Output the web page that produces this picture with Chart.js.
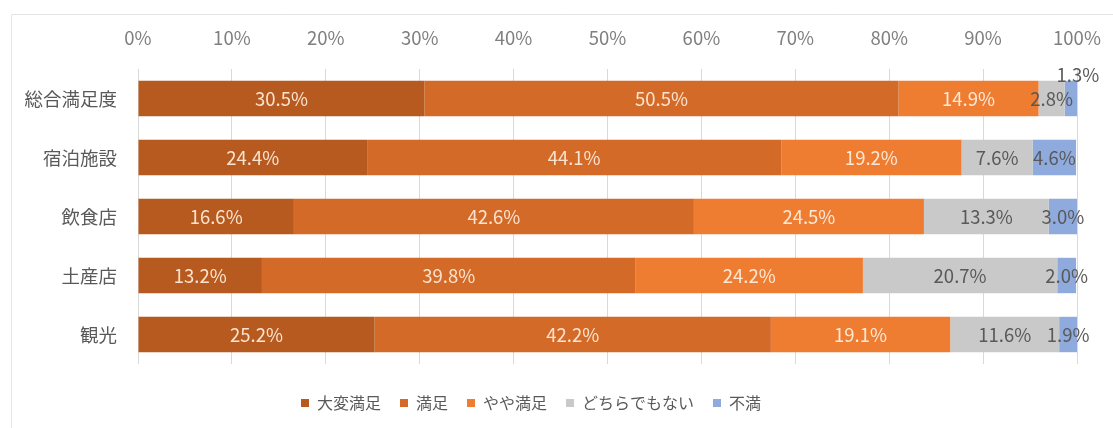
<!DOCTYPE html>
<html>
<head>
<meta charset="utf-8">
<script src="https://cdn.jsdelivr.net/npm/chart.js@4"></script>
<style>
  html, body { margin: 0; padding: 0; background: #ffffff; }
  #wrap { width: 1113px; height: 428px; }
</style>
</head>
<body>
<div id="wrap"><canvas id="c" width="1113" height="428"></canvas></div>
<script>
const categories = ['総合満足度', '宿泊施設', '飲食店', '土産店', '観光'];
const seriesNames = ['大変満足', '満足', 'やや満足', 'どちらでもない', '不満'];
const veryHappy  = [30.5, 24.4, 16.6, 13.2, 25.2];
const happy      = [50.5, 44.1, 42.6, 39.8, 42.2];
const someHappy  = [14.9, 19.2, 24.5, 24.2, 19.1];
const neutral    = [2.8, 7.6, 13.3, 20.7, 11.6];
const unhappy    = [1.3, 4.6, 3.0, 2.0, 1.9];
const xTicks = [0, 10, 20, 30, 40, 50, 60, 70, 80, 90, 100];

const colors = ['#B75A1F', '#D36A27', '#EE7D32', '#C9C9C9', '#8FAADC'];
const labelColors = ['#FBE3CF', '#FBE3CF', '#FDE8D6', '#595959', '#595959'];
const FONT = '"Noto Sans CJK JP", "Noto Sans", sans-serif';

const allSeries = [veryHappy, happy, someHappy, neutral, unhappy];

const frame = {
  id: 'frame',
  beforeDraw(chart) {
    const ctx = chart.ctx;
    ctx.save();
    ctx.strokeStyle = '#e4e4e4';
    ctx.lineWidth = 1;
    ctx.beginPath();
    ctx.moveTo(11.5, 428);
    ctx.lineTo(11.5, 14.5);
    ctx.lineTo(1113, 14.5);
    ctx.stroke();
    ctx.restore();
  }
};

const valueLabels = {
  id: 'valueLabels',
  afterDatasetsDraw(chart) {
    const ctx = chart.ctx;
    ctx.save();
    ctx.font = '18.5px ' + FONT;
    ctx.textAlign = 'center';
    ctx.textBaseline = 'middle';
    chart.data.datasets.forEach((ds, di) => {
      const meta = chart.getDatasetMeta(di);
      meta.data.forEach((el, i) => {
        const v = ds.data[i];
        const txt = v.toFixed(1) + '%';
        let x = (el.x + el.base) / 2;
        let y = el.y;
        if (di === 4 && i === 0) { x += 7; y -= 24; }
        ctx.fillStyle = labelColors[di];
        ctx.fillText(txt, x, y);
      });
    });
    ctx.restore();
  }
};

new Chart(document.getElementById('c'), {
  type: 'bar',
  data: {
    labels: categories,
    datasets: allSeries.map((d, i) => ({
      label: seriesNames[i],
      data: d,
      backgroundColor: colors[i],
      borderWidth: 0,
      barPercentage: 0.6,
      categoryPercentage: 1.0
    }))
  },
  options: {
    indexAxis: 'y',
    responsive: false,
    animation: false,
    devicePixelRatio: 1,
    layout: { padding: { left: -15, right: 36, top: 18, bottom: 7 } },
    scales: {
      x: {
        type: 'linear',
        position: 'top',
        stacked: true,
        min: 0,
        max: 100,
        afterBuildTicks(scale) { scale.ticks = xTicks.map(v => ({ value: v })); },
        afterFit(scale) {
          scale.height = 51;
          scale.paddingLeft = 0;
          scale.paddingRight = 0;
        },
        grid: { color: '#d9d9d9', drawTicks: false, lineWidth: 1 },
        border: { display: false },
        ticks: {
          padding: 20,
          color: '#7f7f7f',
          font: { family: FONT, size: 18.5 },
          callback: v => v + '%'
        }
      },
      x2: {
        type: 'linear',
        position: 'bottom',
        display: true,
        grid: { display: false },
        border: { display: false },
        ticks: { display: false },
        afterFit(scale) { scale.height = 12; scale.paddingLeft = 0; scale.paddingRight = 0; }
      },
      y: {
        stacked: true,
        afterFit(scale) { scale.width = 153; },
        grid: { display: false, drawTicks: false },
        border: { display: false },
        ticks: {
          padding: 21,
          color: '#595959',
          font: { family: FONT, size: 18.5 }
        }
      }
    },
    plugins: {
      legend: {
        position: 'bottom',
        labels: {
          boxWidth: 8,
          boxHeight: 8,
          padding: 19,
          color: '#595959',
          font: { family: FONT, size: 16 }
        }
      },
      tooltip: { enabled: false }
    }
  },
  plugins: [frame, valueLabels]
});
</script>
</body>
</html>
